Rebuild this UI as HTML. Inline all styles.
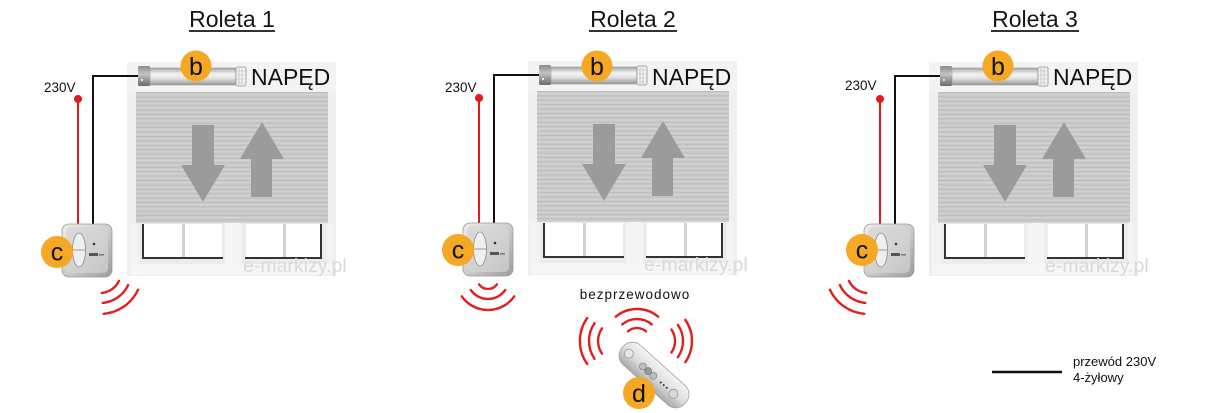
<!DOCTYPE html>
<html>
<head>
<meta charset="utf-8">
<style>
  html, body { margin:0; padding:0; background:#ffffff; }
  body { width:1205px; height:413px; overflow:hidden; }
  svg { display:block; }
  text { font-family: "Liberation Sans", "DejaVu Sans", sans-serif; }
</style>
</head>
<body>
<svg width="1205" height="413" viewBox="0 0 1205 413" xmlns="http://www.w3.org/2000/svg">
  <defs>
    <pattern id="slats" patternUnits="userSpaceOnUse" x="0" y="92" width="200" height="4.4">
      <rect x="0" y="0" width="200" height="4.4" fill="#cbcbcb"/>
      <rect x="0" y="0" width="200" height="1" fill="#bcbcbc"/>
      <rect x="0" y="2" width="200" height="1" fill="#d3d3d3"/>
    </pattern>
    <linearGradient id="tubeg" x1="0" y1="0" x2="0" y2="1">
      <stop offset="0" stop-color="#a4a4a4"/>
      <stop offset="0.35" stop-color="#f3f3f3"/>
      <stop offset="0.6" stop-color="#e4e4e4"/>
      <stop offset="1" stop-color="#959595"/>
    </linearGradient>
    <linearGradient id="capg" x1="0" y1="0" x2="0" y2="1">
      <stop offset="0" stop-color="#8a8a8a"/>
      <stop offset="0.4" stop-color="#c4c4c4"/>
      <stop offset="1" stop-color="#6a6a6a"/>
    </linearGradient>
    <linearGradient id="ctlg" x1="0" y1="0" x2="1" y2="1">
      <stop offset="0" stop-color="#eeeeee"/>
      <stop offset="0.5" stop-color="#cdcdcd"/>
      <stop offset="1" stop-color="#9c9c9c"/>
    </linearGradient>
    <linearGradient id="remg" x1="0" y1="0" x2="0" y2="1">
      <stop offset="0" stop-color="#f4f4f4"/>
      <stop offset="0.5" stop-color="#dedede"/>
      <stop offset="1" stop-color="#a9a9a9"/>
    </linearGradient>

    <g id="win">
      <!-- frame -->
      <rect x="127" y="62" width="209" height="214" fill="#efefef"/>
      <rect x="127" y="62" width="209" height="31" fill="#f3f3f3"/>
      <!-- shutter -->
      <rect x="136" y="92" width="192" height="131" fill="url(#slats)"/>
      <!-- arrows -->
      <polygon points="192,125 214,125 214,165 225,165 203,202 181,165 192,165" fill="#9b9b9b"/>
      <polygon points="262,122 284,159 272,159 272,197 251,197 251,159 240,159" fill="#9b9b9b"/>
      <!-- lower window -->
      <rect x="130" y="223" width="203" height="52" fill="#f3f3f3"/>
      <rect x="139" y="223" width="86" height="41" fill="#ececec"/>
      <rect x="242" y="223" width="84" height="41" fill="#ececec"/>
      <rect x="144" y="224" width="38" height="34" fill="#ffffff"/>
      <rect x="185" y="224" width="37" height="34" fill="#ffffff"/>
      <rect x="182" y="224" width="3" height="34" fill="#d2d2d2"/>
      <rect x="142" y="224" width="2" height="35" fill="#333333"/>
      <rect x="142" y="257" width="81" height="2" fill="#333333"/>
      <rect x="246" y="224" width="37" height="34" fill="#ffffff"/>
      <rect x="286" y="224" width="34" height="34" fill="#ffffff"/>
      <rect x="283" y="224" width="3" height="34" fill="#d2d2d2"/>
      <rect x="320" y="224" width="2" height="35" fill="#333333"/>
      <rect x="245" y="257" width="77" height="2" fill="#333333"/>
      <rect x="225" y="223" width="17" height="41" fill="#f5f5f5"/>
      <rect x="130" y="264" width="203" height="11" fill="#f6f6f6"/>
      <!-- motor -->
      <rect x="150" y="68" width="86" height="17" fill="url(#tubeg)" stroke="#9a9a9a" stroke-width="0.6"/>
      <rect x="138" y="66" width="12" height="20" rx="1.5" fill="url(#capg)"/>
      <circle cx="142" cy="80" r="1" fill="#ffffff"/>
      <rect x="236" y="67" width="10" height="19" rx="2" fill="#f5f5f5" stroke="#8f8f8f" stroke-width="0.8"/>
      <line x1="239" y1="68" x2="239" y2="85" stroke="#aaa" stroke-width="0.6"/>
      <line x1="242" y1="68" x2="242" y2="85" stroke="#aaa" stroke-width="0.6"/>
      <line x1="237" y1="71" x2="245" y2="71" stroke="#bbb" stroke-width="0.5"/>
      <line x1="237" y1="75" x2="245" y2="75" stroke="#bbb" stroke-width="0.5"/>
      <line x1="237" y1="79" x2="245" y2="79" stroke="#bbb" stroke-width="0.5"/>
      <line x1="237" y1="83" x2="245" y2="83" stroke="#bbb" stroke-width="0.5"/>
      <!-- wires -->
      <line x1="78" y1="99" x2="78" y2="225" stroke="#e01b1b" stroke-width="2"/>
      <circle cx="78" cy="99" r="4" fill="#e01b1b"/>
      <polyline points="138,76 93,76 93,225" fill="none" stroke="#111111" stroke-width="2"/>
      <!-- controller -->
      <rect x="62" y="224" width="50" height="53" rx="7" fill="url(#ctlg)" stroke="#9a9a9a" stroke-width="0.8"/>
      <rect x="66" y="227" width="42" height="46" rx="5" fill="#d4d4d4" opacity="0.7"/>
      <ellipse cx="79" cy="250" rx="6.5" ry="17" fill="#efefef" stroke="#8c8c8c" stroke-width="0.8"/>
      <line x1="73" y1="250" x2="85" y2="250" stroke="#9a9a9a" stroke-width="1"/>
      <circle cx="94" cy="244" r="1.3" fill="#333333"/>
      <rect x="89" y="253" width="9" height="3" fill="#555555"/>
      <rect x="99" y="254" width="5" height="1.5" fill="#777777"/>
    </g>
  </defs>

  <!-- Titles -->
  <text x="232" y="27" font-size="23" text-anchor="middle" fill="#151515">Roleta 1</text>
  <line x1="189" y1="31" x2="275" y2="31" stroke="#151515" stroke-width="1.8"/>
  <text x="633" y="27" font-size="23" text-anchor="middle" fill="#151515">Roleta 2</text>
  <line x1="589" y1="31" x2="677" y2="31" stroke="#151515" stroke-width="1.8"/>
  <text x="1035" y="27" font-size="23" text-anchor="middle" fill="#151515">Roleta 3</text>
  <line x1="991" y1="31" x2="1079" y2="31" stroke="#151515" stroke-width="1.8"/>

  <!-- Windows -->
  <use href="#win"/>
  <use href="#win" transform="translate(401,-1)"/>
  <use href="#win" transform="translate(802,0)"/>

  <!-- Watermarks -->
  <text x="243" y="272" font-size="19.5" fill="#d9d9d9">e-markizy.pl</text>
  <text x="644" y="271" font-size="19.5" fill="#d9d9d9">e-markizy.pl</text>
  <text x="1045" y="272" font-size="19.5" fill="#d9d9d9">e-markizy.pl</text>

  <!-- NAPĘD labels -->
  <text x="251" y="85" font-size="23" fill="#111111">NAPĘD</text>
  <text x="652" y="85" font-size="23" fill="#111111">NAPĘD</text>
  <text x="1053" y="85" font-size="23" fill="#111111">NAPĘD</text>

  <!-- 230V labels -->
  <text x="44" y="92" font-size="13.5" fill="#111111">230V</text>
  <text x="445" y="92" font-size="13.5" fill="#111111">230V</text>
  <text x="845" y="90" font-size="13.5" fill="#111111">230V</text>

  <!-- Badges b -->
  <circle cx="196" cy="66" r="15.5" fill="#F4A824"/>
  <text x="196" y="75" font-size="25" text-anchor="middle" fill="#111">b</text>
  <circle cx="597" cy="66" r="15.5" fill="#F4A824"/>
  <text x="597" y="75" font-size="25" text-anchor="middle" fill="#111">b</text>
  <circle cx="998" cy="66" r="15.5" fill="#F4A824"/>
  <text x="998" y="75" font-size="25" text-anchor="middle" fill="#111">b</text>

  <!-- Badges c -->
  <circle cx="57" cy="252" r="16" fill="#F4A824"/>
  <text x="57" y="260.5" font-size="25" text-anchor="middle" fill="#111">c</text>
  <circle cx="458" cy="250" r="16" fill="#F4A824"/>
  <text x="458" y="258.5" font-size="25" text-anchor="middle" fill="#111">c</text>
  <circle cx="862" cy="250" r="16" fill="#F4A824"/>
  <text x="862" y="258.5" font-size="25" text-anchor="middle" fill="#111">c</text>

  <!-- Waves -->
  <g fill="none" stroke="#e01f1f" stroke-width="2.4" stroke-linecap="round">
    <!-- Roleta 1 -->
    <path d="M119.0,280.9 A21,21 0 0 1 101.8,292.9"/>
    <path d="M128.1,285.1 A31,31 0 0 1 102.7,302.9"/>
    <path d="M138.1,289.8 A42,42 0 0 1 103.7,313.8"/>
    <!-- Roleta 2 -->
    <path d="M497.0,284.3 A11,11 0 0 1 479.0,284.3"/>
    <path d="M505.2,290.0 A21,21 0 0 1 470.8,290.0"/>
    <path d="M514.2,296.4 A32,32 0 0 1 461.8,296.4"/>
    <!-- Roleta 3 -->
    <path d="M866.2,292.9 A21,21 0 0 1 849.0,280.9"/>
    <path d="M865.3,302.9 A31,31 0 0 1 839.9,285.1"/>
    <path d="M864.3,313.8 A42,42 0 0 1 829.9,289.8"/>
    <!-- Remote top -->
    <path d="M628.0,331.3 A14,14 0 0 1 646.0,331.3"/>
    <path d="M622.2,324.4 A23,23 0 0 1 651.8,324.4"/>
    <path d="M615.8,316.7 A33,33 0 0 1 658.2,316.7"/>
    <!-- Remote left -->
    <path d="M602.0,353.6 A22,22 0 0 1 602.0,328.4"/>
    <path d="M594.6,358.8 A31,31 0 0 1 594.6,323.2"/>
    <path d="M587.2,364.0 A40,40 0 0 1 587.2,318.0"/>
    <!-- Remote right -->
    <path d="M671.4,329.5 A20,20 0 0 1 671.4,352.5"/>
    <path d="M677.9,324.9 A28,28 0 0 1 677.9,357.1"/>
    <path d="M685.3,319.8 A37,37 0 0 1 685.3,362.2"/>
  </g>

  <!-- bezprzewodowo -->
  <text x="635" y="299" font-size="13.5" letter-spacing="1" text-anchor="middle" fill="#111111">bezprzewodowo</text>

  <!-- Remote -->
  <g transform="translate(654,375) rotate(42)">
    <rect x="-42" y="-13" width="84" height="26" rx="12" fill="url(#remg)" stroke="#a0a0a0" stroke-width="0.8"/>
    <circle cx="-33" cy="1" r="4.5" fill="#e8e8e8" stroke="#999" stroke-width="0.8"/>
    <circle cx="-14" cy="1" r="3.5" fill="#bdbdbd" stroke="#777" stroke-width="0.6"/>
    <circle cx="-7" cy="1" r="3.5" fill="#9a9a9a" stroke="#666" stroke-width="0.6"/>
    <circle cx="0" cy="1" r="3.5" fill="#bdbdbd" stroke="#777" stroke-width="0.6"/>
    <circle cx="10" cy="1" r="1" fill="#333"/>
    <circle cx="14" cy="1" r="1" fill="#333"/>
    <circle cx="18" cy="1" r="1" fill="#333"/>
    <circle cx="27" cy="1" r="4.5" fill="#d8d8d8" stroke="#999" stroke-width="0.8"/>
  </g>
  <circle cx="639" cy="393" r="16" fill="#F4A824"/>
  <text x="639" y="402" font-size="25" text-anchor="middle" fill="#111">d</text>

  <!-- Legend -->
  <line x1="992" y1="372" x2="1062" y2="372" stroke="#111111" stroke-width="2.5"/>
  <text x="1073" y="366" font-size="13" fill="#111111">przewód 230V</text>
  <text x="1073" y="382" font-size="13" fill="#111111">4-żyłowy</text>
</svg>
</body>
</html>
